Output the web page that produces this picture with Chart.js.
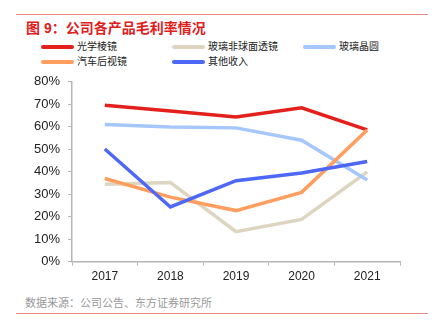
<!DOCTYPE html>
<html>
<head>
<meta charset="utf-8">
<script src="https://cdn.jsdelivr.net/npm/chart.js@4"></script>
<style>
body { margin: 0; width: 429px; height: 330px; background: #fff; position: relative; overflow: hidden;
  font-family: "Liberation Sans", "Noto Sans CJK SC", sans-serif; }
.rule { position: absolute; left: 16px; width: 412px; height: 1px; background: #ea8a86; }
#title { position: absolute; left: 26px; top: 17px; font-size: 14px; font-weight: bold; color: #e0201b;
  font-family: "Liberation Sans", "Noto Sans CJK SC", sans-serif; }
#legend .item { position: absolute; font-size: 10px; color: #222; height: 12px; line-height: 12px;
  font-family: "Noto Sans CJK SC", sans-serif; }
#legend .swatch { position: absolute; left: 0; top: 4px; width: 33px; height: 4px; border-radius: 2px; }
#legend .label { position: absolute; left: 36px; top: -1px; white-space: nowrap; }
#wrap { position: absolute; left: 0; top: 66px; width: 429px; height: 222px; }
#source { position: absolute; left: 25px; top: 294px; font-size: 11px; color: #999;
  font-family: "Noto Sans CJK SC", sans-serif; }
</style>
</head>
<body>
<div class="rule" style="top:14px"></div>
<div id="title">图 9：公司各产品毛利率情况</div>
<div id="legend"></div>
<div id="wrap"><canvas id="lineChart" width="429" height="222"></canvas></div>
<div id="source">数据来源：公司公告、东方证券研究所</div>
<div class="rule" style="top:313px"></div>
<script>
var years = ['2017', '2018', '2019', '2020', '2021'];
var seriesNames = ['光学棱镜', '玻璃非球面透镜', '玻璃晶圆', '汽车后视镜', '其他收入'];
var prism = [69.6, 67.0, 64.3, 68.4, 58.6];
var asphericLens = [34.4, 35.2, 13.3, 18.8, 39.9];
var glassWafer = [61.0, 59.9, 59.5, 54.0, 36.3];
var mirror = [37.0, 28.7, 22.7, 30.8, 58.6];
var other = [50.1, 24.3, 36.0, 39.4, 44.5];
var seriesData = [prism, asphericLens, glassWafer, mirror, other];
var colors = ['#e3201c', '#ded5c1', '#a6c7fb', '#ff9e5e', '#4d68f6'];

// legend laid out in columns like the original
var legendPos = [[41, 41], [172, 41], [303, 41], [41, 56], [172, 56]];
var legend = document.getElementById('legend');
seriesNames.forEach(function (name, i) {
    var d = document.createElement('div');
    d.className = 'item';
    d.style.left = legendPos[i][0] + 'px';
    d.style.top = legendPos[i][1] + 'px';
    d.innerHTML = '<span class="swatch" style="background:' + colors[i] + '"></span><span class="label">' + name + '</span>';
    legend.appendChild(d);
});

var ctx = document.getElementById('lineChart').getContext('2d');
var myChart = new Chart(ctx, {
    type: 'line',
    data: {
        labels: years,
        datasets: seriesNames.map(function (name, i) {
            return {
                label: name,
                data: seriesData[i],
                borderColor: colors[i],
                backgroundColor: colors[i],
                borderWidth: 3.5,
                pointRadius: 0,
                tension: 0,
                order: seriesNames.length - i
            };
        })
    },
    options: {
        responsive: false,
        animation: false,
        layout: { padding: { top: 6, right: 29, left: 26, bottom: 0 } },
        plugins: { legend: { display: false }, tooltip: { enabled: false } },
        scales: {
            x: {
                offset: true,
                grid: { offset: true, drawOnChartArea: false, drawTicks: true, tickLength: 4, color: '#b5b5b5', lineWidth: 1 },
                border: { color: '#b5b5b5', width: 1.5 },
                ticks: { color: '#222', font: { size: 12, family: 'Liberation Sans' }, padding: 4 }
            },
            y: {
                min: 0,
                max: 80,
                grid: { drawOnChartArea: false, drawTicks: true, tickLength: 4, color: '#b5b5b5', lineWidth: 1 },
                border: { color: '#b5b5b5', width: 1.5 },
                ticks: {
                    stepSize: 10,
                    color: '#222',
                    font: { size: 13, family: 'Liberation Sans' },
                    padding: 8,
                    callback: function (v) { return v + '%'; }
                }
            }
        }
    }
});
</script>
</body>
</html>
